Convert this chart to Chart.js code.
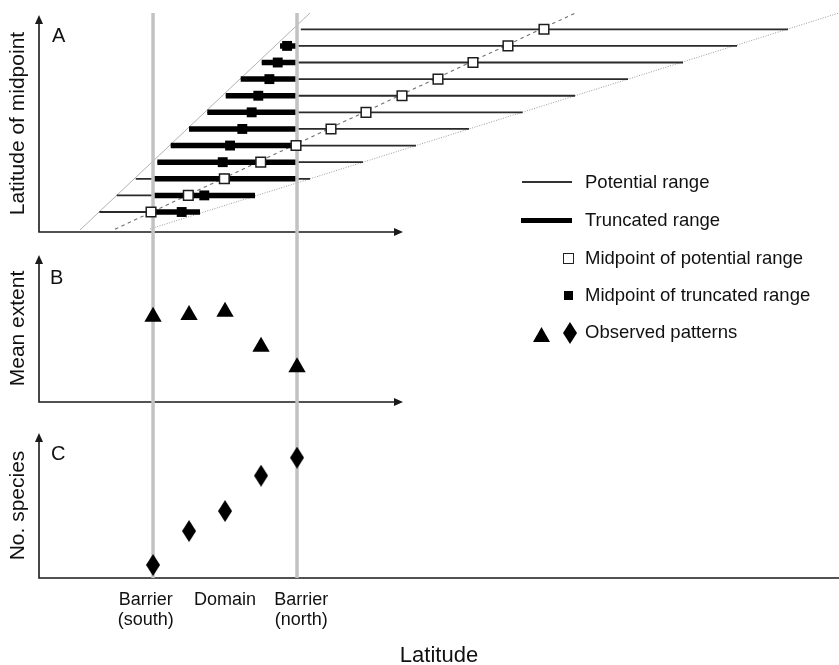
<!DOCTYPE html>
<html>
<head>
<meta charset="utf-8">
<title>Range truncation between barriers</title>
<script src="https://cdn.jsdelivr.net/npm/chart.js@4.4.1/dist/chart.umd.min.js"></script>
<style>
  html, body { margin: 0; padding: 0; background: #fff; overflow: hidden; }
  #page { position: relative; width: 839px; height: 665px; font-family: "Liberation Sans", Arial, sans-serif; color: #111; }
  #page canvas { position: absolute; left: 0; }
  .panel { position: absolute; font-size: 20px; line-height: 24px; }
  .key { position: absolute; left: 585px; font-size: 18.5px; line-height: 24px; white-space: nowrap; }
  .mark { position: absolute; background: #000; box-sizing: border-box; }
  .tri { clip-path: polygon(50% 0, 100% 100%, 0 100%); }
  .dia { clip-path: polygon(50% 0, 100% 50%, 50% 100%, 0 50%); }
</style>
</head>
<body>
<div id="page">
  <canvas id="chartA" width="839" height="240" style="top:0"></canvas>
  <canvas id="chartB" width="839" height="180" style="top:240px"></canvas>
  <canvas id="chartC" width="839" height="260" style="top:420px"></canvas>

  <div class="panel" style="left:52px;top:23px">A</div>
  <div class="panel" style="left:50px;top:265px">B</div>
  <div class="panel" style="left:51px;top:441px">C</div>

  <!-- key -->
  <div class="mark" style="left:522px;top:181px;width:50px;height:1.6px;background:#333"></div>
  <div class="key" style="top:170px">Potential range</div>
  <div class="mark" style="left:521px;top:217.5px;width:51px;height:5px"></div>
  <div class="key" style="top:208px">Truncated range</div>
  <div class="mark" style="left:563px;top:253px;width:10.5px;height:10.5px;background:#fff;border:1.5px solid #222"></div>
  <div class="key" style="top:246px">Midpoint of potential range</div>
  <div class="mark" style="left:564px;top:291px;width:9px;height:9px"></div>
  <div class="key" style="top:283px">Midpoint of truncated range</div>
  <div class="mark tri" style="left:533px;top:327px;width:17px;height:15px"></div>
  <div class="mark dia" style="left:563px;top:322px;width:14px;height:22px"></div>
  <div class="key" style="top:320px">Observed patterns</div>
</div>

<script>
const FONT = '"Liberation Sans", Arial, sans-serif';

// latitude units: southern barrier = 0, northern barrier = 10
const X_MIN = -7.92;
const X_MAX = 47.64;
const barrierLat = [0, 10];

// panel A: one row per species, bottom row = 1
const speciesRow = [1, 2, 3, 4, 5, 6, 7, 8, 9, 10, 11, 12];
const potentialStart = [-3.73, -2.52, -1.2, 0.3, 1.23, 2.5, 3.77, 5.05, 6.09, 7.55, 8.82, 10.26];
const potentialEnd = [3.26, 7.08, 10.9, 14.58, 18.26, 21.94, 25.67, 29.31, 32.99, 36.81, 40.56, 44.1];
const potentialMid = [-0.14, 2.45, 4.95, 7.48, 9.93, 12.36, 14.79, 17.29, 19.79, 22.22, 24.65, 27.15];
const truncStart = [0, 0, 0, 0.3, 1.23, 2.5, 3.77, 5.05, 6.09, 7.55, 8.82, null];
const truncEnd = [3.26, 7.08, 10, 10, 10, 10, 10, 10, 10, 10, 10, null];
const truncMid = [1.99, 3.56, 5.0, 4.84, 5.35, 6.2, 6.85, 7.31, 8.08, 8.66, 9.31, null];

// guide lines in panel A (start and end points)
const southLimitX = [-5.07, 10.9];
const southLimitY = [-0.08, 12.98];
const northLimitX = [-0.21, 47.64];
const northLimitY = [-0.02, 12.98];
const midLineX = [-2.64, 29.42];
const midLineY = [-0.04, 13.02];

// panels B and C
const patternLat = [0, 2.5, 5, 7.5, 10];
const meanExtent = [5.8, 5.92, 6.14, 3.76, 2.36];
const speciesCount = [0.9, 3.24, 4.62, 7.06, 8.3];

// x tick labels under panel C
const tickLat = [-0.5, 5, 10.3];
const tickText = [['Barrier', '(south)'], 'Domain', ['Barrier', '(north)']];

Chart.defaults.font.family = FONT;
Chart.defaults.color = '#111';

function segments(starts, ends, rows) {
  const pts = [];
  rows.forEach((r, i) => {
    if (starts[i] == null) return;
    pts.push({ x: starts[i], y: r }, { x: ends[i], y: r }, { x: ends[i], y: null });
  });
  return pts;
}

function pairs(xs, ys) {
  return xs.map((x, i) => ({ x: x, y: ys[i] })).filter(p => p.x != null && p.y != null);
}

function barrierLines(clip) {
  const pts = [];
  barrierLat.forEach(v => pts.push({ x: v, y: -100 }, { x: v, y: 100 }, { x: v, y: null }));
  return {
    data: pts, showLine: true, pointRadius: 0,
    borderColor: '#c2c2c2', borderWidth: 3.5, clip: clip, order: 5
  };
}

function diamondImage(w, h) {
  const c = document.createElement('canvas');
  c.width = w; c.height = h;
  const g = c.getContext('2d');
  g.fillStyle = '#000';
  g.beginPath();
  g.moveTo(w / 2, 0); g.lineTo(w, h / 2); g.lineTo(w / 2, h); g.lineTo(0, h / 2);
  g.closePath();
  g.fill();
  return c;
}

// axis lines with arrow heads
const arrowAxes = {
  id: 'arrowAxes',
  beforeDatasetsDraw(chart, args, opts) {
    const { ctx, chartArea: a, scales: { x } } = chart;
    const right = opts.xEnd == null ? a.right : x.getPixelForValue(opts.xEnd);
    ctx.save();
    ctx.strokeStyle = '#1a1a1a';
    ctx.fillStyle = '#1a1a1a';
    ctx.lineWidth = 1.6;
    ctx.beginPath();
    ctx.moveTo(a.left, a.top + 8);
    ctx.lineTo(a.left, a.bottom);
    ctx.lineTo(opts.xEnd == null ? right : right - 8, a.bottom);
    ctx.stroke();
    ctx.beginPath();
    ctx.moveTo(a.left, a.top);
    ctx.lineTo(a.left - 4, a.top + 9);
    ctx.lineTo(a.left + 4, a.top + 9);
    ctx.closePath();
    ctx.fill();
    if (opts.xEnd != null) {
      ctx.beginPath();
      ctx.moveTo(right, a.bottom);
      ctx.lineTo(right - 9, a.bottom - 4);
      ctx.lineTo(right - 9, a.bottom + 4);
      ctx.closePath();
      ctx.fill();
    }
    ctx.restore();
  }
};

function yAxis(min, max, text) {
  return {
    type: 'linear', min: min, max: max,
    ticks: { display: false },
    grid: { display: false, drawTicks: false },
    border: { display: false },
    title: { display: true, text: text, color: '#111', font: { size: 21 }, padding: { top: 6, bottom: 0 } },
    afterFit(s) { s.width = 39; }
  };
}

function hiddenX() {
  return { type: 'linear', min: X_MIN, max: X_MAX, display: false };
}

function baseOptions(padding, scales, xEnd) {
  return {
    responsive: false,
    animation: false,
    events: [],
    layout: { padding: padding, autoPadding: false },
    scales: scales,
    plugins: { legend: { display: false }, tooltip: { enabled: false }, arrowAxes: { xEnd: xEnd } }
  };
}

// panel A
new Chart(document.getElementById('chartA'), {
  type: 'scatter',
  data: {
    datasets: [
      { data: pairs(southLimitX, southLimitY), showLine: true, pointRadius: 0, borderColor: '#a8a8a8', borderWidth: 0.9, clip: false, order: 10 },
      { data: pairs(northLimitX, northLimitY), showLine: true, pointRadius: 0, borderColor: '#9a9a9a', borderWidth: 1, borderDash: [1, 1.5], clip: false, order: 10 },
      { data: pairs(midLineX, midLineY), showLine: true, pointRadius: 0, borderColor: '#707070', borderWidth: 1.1, borderDash: [3.5, 3.5], clip: false, order: 9 },
      { data: segments(potentialStart, potentialEnd, speciesRow), showLine: true, pointRadius: 0, borderColor: '#2a2a2a', borderWidth: 1.8, order: 8 },
      { data: segments(truncStart, truncEnd, speciesRow), showLine: true, pointRadius: 0, borderColor: '#000', borderWidth: 5.5, order: 7 },
      barrierLines({ left: 0, right: 0, top: 2, bottom: 8 }),
      { data: pairs(truncMid, speciesRow), pointStyle: 'rect', pointRadius: 7, backgroundColor: '#000', borderWidth: 0, order: 2 },
      { data: pairs(potentialMid, speciesRow), pointStyle: 'rect', pointRadius: 6.8, backgroundColor: '#fff', borderColor: '#1e1e1e', borderWidth: 1.5, order: 1 }
    ]
  },
  options: baseOptions({ left: 0, right: 0, top: 15, bottom: 8 },
    { x: hiddenX(), y: yAxis(-0.204, 12.86, 'Latitude of midpoint') }, 17.36),
  plugins: [arrowAxes]
});

// panel B
new Chart(document.getElementById('chartB'), {
  type: 'scatter',
  data: {
    datasets: [
      barrierLines({ left: 0, right: 0, top: 15, bottom: 18 }),
      { data: pairs(patternLat, meanExtent), pointStyle: 'triangle', pointRadius: 10, backgroundColor: '#000', borderWidth: 0, order: 1 }
    ]
  },
  options: baseOptions({ left: 0, right: 0, top: 15, bottom: 18 },
    { x: hiddenX(), y: yAxis(0, 10, 'Mean extent') }, 17.36),
  plugins: [arrowAxes]
});

// panel C
new Chart(document.getElementById('chartC'), {
  type: 'scatter',
  data: {
    datasets: [
      barrierLines({ left: 0, right: 0, top: 13, bottom: 0 }),
      { data: pairs(patternLat, speciesCount), pointStyle: diamondImage(14, 22), pointRadius: 10, order: 1 }
    ]
  },
  options: baseOptions({ left: 0, right: 0, top: 13, bottom: 0 }, {
    x: {
      type: 'linear', min: X_MIN, max: X_MAX,
      afterBuildTicks(s) { s.ticks = tickLat.map(v => ({ value: v })); },
      ticks: {
        autoSkip: false, maxRotation: 0, minRotation: 0, padding: 12, color: '#111',
        font: { size: 18, lineHeight: '20px' },
        callback: (v, i) => tickText[i]
      },
      grid: { display: false, drawTicks: false, tickLength: 0 },
      border: { display: false },
      title: { display: true, text: 'Latitude', color: '#111', font: { size: 22 }, padding: { top: 0, bottom: 11 } },
      afterFit(s) { s.height = 102; }
    },
    y: yAxis(0, 10, 'No. species')
  }, null),
  plugins: [arrowAxes]
});
</script>
</body>
</html>
